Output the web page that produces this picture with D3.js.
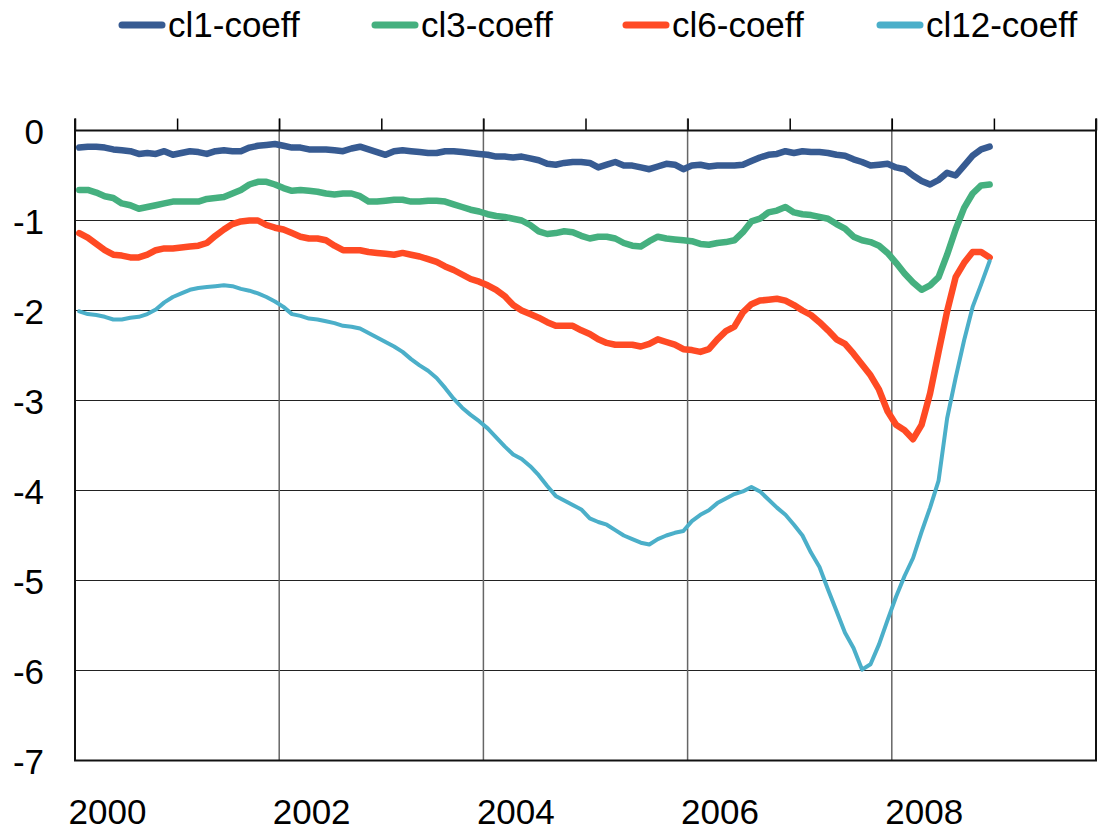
<!DOCTYPE html>
<html>
<head>
<meta charset="utf-8">
<script src="https://cdn.jsdelivr.net/npm/d3@7"></script>
<style>
  body { margin: 0; background: #fff; }
  text { font-family: "Liberation Sans", Arial, sans-serif; fill: #000; }
</style>
</head>
<body>
<div id="chart"></div>
<script>
// monthly values, Jan 2000 .. Dec 2008
var cl1 = [-0.19,-0.18,-0.18,-0.19,-0.21,-0.22,-0.23,-0.26,-0.25,-0.26,-0.23,-0.27,-0.25,-0.23,-0.24,-0.26,-0.23,-0.22,-0.23,-0.23,-0.19,-0.17,-0.16,-0.15,-0.17,-0.19,-0.19,-0.21,
  -0.21,-0.21,-0.22,-0.23,-0.20,-0.18,-0.21,-0.24,-0.27,-0.23,-0.22,-0.23,-0.24,-0.25,-0.25,-0.23,-0.23,-0.24,-0.25,-0.26,-0.27,-0.29,-0.29,-0.30,-0.29,-0.31,-0.33,
  -0.37,-0.38,-0.36,-0.35,-0.35,-0.36,-0.41,-0.38,-0.35,-0.39,-0.39,-0.41,-0.43,-0.40,-0.37,-0.38,-0.43,-0.39,-0.38,-0.40,-0.39,-0.39,-0.39,-0.38,-0.34,-0.30,-0.27,
  -0.26,-0.23,-0.25,-0.23,-0.24,-0.24,-0.25,-0.27,-0.28,-0.32,-0.35,-0.39,-0.38,-0.37,-0.41,-0.43,-0.50,-0.56,-0.60,-0.55,-0.47,-0.50,-0.39,-0.28,-0.21,-0.18];
var cl3 = [-0.66,-0.66,-0.69,-0.73,-0.75,-0.81,-0.83,-0.87,-0.85,-0.83,-0.81,-0.79,-0.79,-0.79,-0.79,-0.76,-0.75,-0.74,-0.70,-0.66,-0.60,-0.57,-0.57,-0.60,-0.64,-0.67,-0.66,-0.67,
  -0.68,-0.70,-0.71,-0.70,-0.70,-0.73,-0.79,-0.79,-0.78,-0.77,-0.77,-0.79,-0.79,-0.78,-0.78,-0.79,-0.82,-0.85,-0.88,-0.90,-0.93,-0.95,-0.96,-0.98,-1.00,-1.05,-1.12,
  -1.15,-1.14,-1.12,-1.13,-1.17,-1.20,-1.18,-1.18,-1.20,-1.25,-1.28,-1.29,-1.23,-1.18,-1.20,-1.21,-1.22,-1.23,-1.26,-1.27,-1.25,-1.24,-1.22,-1.13,-1.01,-0.98,-0.91,
  -0.89,-0.85,-0.91,-0.93,-0.94,-0.96,-0.98,-1.04,-1.09,-1.18,-1.22,-1.24,-1.28,-1.36,-1.47,-1.59,-1.69,-1.77,-1.72,-1.63,-1.38,-1.10,-0.86,-0.70,-0.61,-0.60];
var cl6 = [-1.14,-1.19,-1.26,-1.33,-1.38,-1.39,-1.41,-1.41,-1.38,-1.33,-1.31,-1.31,-1.30,-1.29,-1.28,-1.25,-1.17,-1.10,-1.04,-1.01,-1.00,-1.00,-1.05,-1.08,-1.10,-1.14,-1.18,-1.20,
  -1.20,-1.22,-1.28,-1.33,-1.33,-1.33,-1.35,-1.36,-1.37,-1.38,-1.36,-1.38,-1.40,-1.43,-1.46,-1.51,-1.55,-1.60,-1.65,-1.68,-1.72,-1.77,-1.84,-1.94,-2.00,-2.04,-2.08,
  -2.13,-2.17,-2.17,-2.17,-2.22,-2.26,-2.32,-2.36,-2.38,-2.38,-2.38,-2.40,-2.37,-2.32,-2.35,-2.38,-2.43,-2.44,-2.46,-2.43,-2.32,-2.23,-2.18,-2.02,-1.93,-1.89,-1.88,
  -1.87,-1.89,-1.94,-2.00,-2.05,-2.13,-2.22,-2.32,-2.37,-2.48,-2.60,-2.72,-2.88,-3.12,-3.27,-3.33,-3.43,-3.27,-2.92,-2.46,-2.01,-1.63,-1.47,-1.35,-1.35,-1.41];
var cl12 = [-2.01,-2.04,-2.05,-2.07,-2.10,-2.10,-2.08,-2.07,-2.04,-1.99,-1.91,-1.85,-1.81,-1.77,-1.75,-1.74,-1.73,-1.72,-1.73,-1.76,-1.78,-1.81,-1.85,-1.90,-1.96,-2.04,-2.06,-2.09,
  -2.10,-2.12,-2.14,-2.17,-2.18,-2.20,-2.25,-2.30,-2.35,-2.40,-2.46,-2.54,-2.61,-2.67,-2.75,-2.86,-2.98,-3.08,-3.16,-3.23,-3.31,-3.41,-3.51,-3.60,-3.65,-3.73,-3.83,
  -3.95,-4.06,-4.11,-4.16,-4.21,-4.31,-4.35,-4.38,-4.44,-4.50,-4.54,-4.58,-4.60,-4.54,-4.50,-4.47,-4.45,-4.34,-4.27,-4.22,-4.14,-4.09,-4.04,-4.01,-3.96,-4.01,-4.10,
  -4.19,-4.27,-4.38,-4.50,-4.69,-4.85,-5.10,-5.34,-5.58,-5.75,-5.99,-5.93,-5.71,-5.44,-5.18,-4.95,-4.75,-4.46,-4.19,-3.89,-3.20,-2.75,-2.33,-1.96,-1.71,-1.45];

var seriesNames = ["cl1-coeff", "cl3-coeff", "cl6-coeff", "cl12-coeff"];
var seriesColors = ["#375B92", "#45B07F", "#FF4A24", "#4BAFC9"];
var yTicks = [0, -1, -2, -3, -4, -5, -6, -7];
var xLabelYears = [2000, 2002, 2004, 2006, 2008];

var svgWidth = 1100, svgHeight = 835;
var margin = { top: 130.5, right: 4, bottom: 74.5, left: 75 };
var width = svgWidth - margin.left - margin.right;
var height = svgHeight - margin.top - margin.bottom;

var svg = d3.select("#chart").append("svg")
  .attr("width", svgWidth)
  .attr("height", svgHeight);

var g = svg.append("g")
  .attr("transform", `translate(${margin.left}, ${margin.top})`);

var x = d3.scaleLinear().domain([2000, 2010]).range([0, width]);
var y = d3.scaleLinear().domain([-7, 0]).range([height, 0]);

// horizontal grid
g.append("g")
  .selectAll("line")
  .data(yTicks.filter(d => d < 0 && d > -7))
  .enter().append("line")
  .attr("x1", 0).attr("x2", width)
  .attr("y1", d => y(d)).attr("y2", d => y(d))
  .attr("stroke", "#222").attr("stroke-width", 1.2);

// vertical grid at even years
g.append("g")
  .selectAll("line")
  .data([2002, 2004, 2006, 2008])
  .enter().append("line")
  .attr("x1", d => x(d)).attr("x2", d => x(d))
  .attr("y1", -12).attr("y2", height)
  .attr("stroke", "#666").attr("stroke-width", 1.5);

// top axis with yearly tick marks pointing up
var topAxis = d3.axisTop(x).tickValues(d3.range(2000, 2011)).tickSize(12).tickFormat("");
var ta = g.append("g").call(topAxis);
ta.select(".domain").remove();
ta.selectAll("line").attr("stroke", "#000").attr("stroke-width", 1.5);

// y axis labels
var leftAxis = d3.axisLeft(y).tickValues(yTicks).tickSize(0).tickPadding(31).tickFormat(d => d === 0 ? "0" : "-" + Math.abs(d));
var la = g.append("g").call(leftAxis);
la.select(".domain").remove();
la.selectAll("text").style("font-size", "35px").attr("dy", "0.36em");

// x axis labels at the bottom
var bottomAxis = d3.axisBottom(x).tickValues(xLabelYears).tickSize(0).tickFormat(d3.format("d"));
var ba = g.append("g").attr("transform", `translate(0, ${height})`).call(bottomAxis);
ba.select(".domain").remove();
ba.selectAll("text")
  .style("font-size", "35px")
  .attr("text-anchor", "start")
  .attr("x", -7)
  .attr("y", 63)
  .attr("dy", 0);

// plot frame
g.append("rect")
  .attr("x", 0).attr("y", 0)
  .attr("width", width).attr("height", height)
  .attr("fill", "none").attr("stroke", "#111").attr("stroke-width", 2);
g.append("line").attr("x1", 0).attr("x2", 0).attr("y1", -12).attr("y2", 0).attr("stroke", "#111").attr("stroke-width", 2);
g.append("line").attr("x1", width).attr("x2", width).attr("y1", -12).attr("y2", 0).attr("stroke", "#111").attr("stroke-width", 2);

// lines
var allSeries = [cl1, cl3, cl6, cl12];
var widths = [6.5, 6.5, 6.5, 4];
var line = d3.line()
  .x((d, i) => x(2000 + (i + 0.5) / 12))
  .y(d => y(d));

allSeries.forEach(function(s, k) {
  g.append("path")
    .datum(s)
    .attr("fill", "none")
    .attr("stroke", seriesColors[k])
    .attr("stroke-width", widths[k])
    .attr("stroke-linejoin", "round")
    .attr("stroke-linecap", "round")
    .attr("d", line);
});

// legend
var legendX = [119, 372, 623, 877];
var legend = svg.append("g");
seriesNames.forEach(function(name, k) {
  legend.append("line")
    .attr("x1", legendX[k] + 3).attr("x2", legendX[k] + 43)
    .attr("y1", 25).attr("y2", 25)
    .attr("stroke", seriesColors[k])
    .attr("stroke-width", 7)
    .attr("stroke-linecap", "round");
  legend.append("text")
    .attr("x", legendX[k] + 49)
    .attr("y", 37)
    .style("font-size", "35px")
    .text(name);
});
</script>
</body>
</html>
